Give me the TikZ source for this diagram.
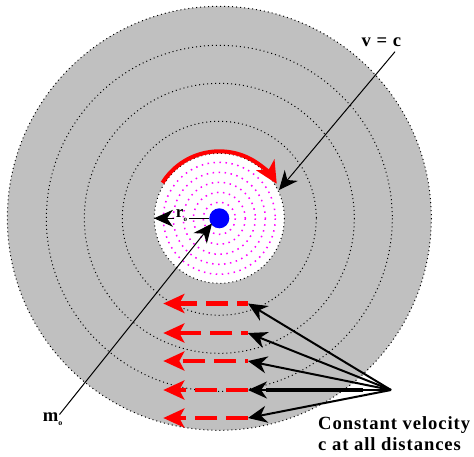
\documentclass[tikz,border=0pt]{standalone}
\usepackage{fontspec}
\setmainfont{Liberation Serif}
\newfontfamily\lblfont[LetterSpace=5]{Liberation Serif}
\usetikzlibrary{arrows.meta}
\definecolor{discgray}{RGB}{192,192,192}
\definecolor{ringmag}{RGB}{255,0,255}
\begin{document}
\begin{tikzpicture}[x=1pt,y=-1pt,
  bigtip/.style={-{Stealth[length=19pt,width=17pt,inset=6pt]}},
  redtip/.style={-{Stealth[length=21pt,width=19pt,inset=5pt]}},
  ring/.style={draw=black,line width=1pt,dash pattern=on 1pt off 3pt},
  magring/.style={draw=ringmag,line width=1.5pt,dash pattern=on 1.5pt off 4.5pt},
  reddash/.style={draw=red,line width=4.5pt,dash pattern=on 22pt off 9pt,redtip},
  pointer/.style={draw=black,line width=2pt,bigtip},
  thinptr/.style={draw=black,line width=1pt,bigtip},
  lbl/.style={font=\lblfont\bfseries\fontsize{18.6}{21}\selectfont, inner sep=0pt}
]
\useasboundingbox (0,0) rectangle (474,456);
\coordinate (O) at (219.3,218.3);
% discs and rings
\fill[discgray] (O) circle[radius=212];
\draw[ring] (O) circle[radius=212];
\foreach \r in {173,135,97} \draw[ring] (O) circle[radius=\r];
\fill[white] (O) circle[radius=65];
\draw[ring] (O) circle[radius=65];
\foreach \r in {16,26,36,46,56} \draw[magring] (O) circle[radius=\r];
% red arc
\draw[red,line width=4pt,-{Stealth[length=22pt,width=21pt,inset=6pt]}]
  (O) ++(-148:67) arc[start angle=-148,end angle=-31,radius=67];
% central mass
\node[circle,fill=blue,minimum size=20pt,inner sep=0pt] (m) at (O) {};
% r_o
\node[font=\fontsize{17}{17}\selectfont\bfseries, inner sep=1.5pt] (ro) at (181.5,216) {r\raisebox{-4pt}{\fontsize{7}{7}\selectfont o}};
\coordinate (rtip) at (154,218.3);
\draw[line width=1pt] (m) -- (ro.east |- m.center);
\draw[thinptr] (ro.west |- m.center) -- (rtip);
% v = c
\node[lbl,anchor=base west] (vc) at (361.5,46.7) {v = c};
\coordinate (vcs) at (395,51.7);
\coordinate (vct) at (279,190);
\draw[thinptr] (vcs) -- (vct);
% m_o
\node[lbl,anchor=base west] (mo) at (42.7,421.7) {m\raisebox{-4pt}{\fontsize{8}{8}\selectfont o}};
\coordinate (mos) at (59.5,414.5);
\coordinate (mot) at (212,223.5);
\draw[thinptr] (mos) -- (mot);
% red dashed arrows
\coordinate (rs1) at (248,303.5); \coordinate (rl1) at (163.3,303.5);
\coordinate (rs2) at (248,333);   \coordinate (rl2) at (163.3,333);
\coordinate (rs3) at (248,361);   \coordinate (rl3) at (163.3,361);
\coordinate (rs4) at (248,390);   \coordinate (rl4) at (163.3,390);
\coordinate (rs5) at (248,418);   \coordinate (rl5) at (163.3,418);
\draw[reddash,dash phase=11pt] (rs1) -- (rl1);
\draw[reddash,dash phase=15pt] (rs2) -- (rl2);
\draw[reddash,dash phase=19pt] (rs3) -- (rl3);
\draw[reddash,dash phase=0pt] (rs4) -- (rl4);
\draw[reddash,dash phase=0pt] (rs5) -- (rl5);
% black pointers
\coordinate (src) at (391,390);
\coordinate (thk) at (363,390);
\foreach \i in {1,...,5} \draw[pointer] (src) -- (rs\i);
\draw[line width=3.5pt] (thk) -- (266,390);
% caption
\node[lbl,anchor=north west,align=left] (cv) at (318,416) {Constant velocity\\c at all distances};
\end{tikzpicture}
\end{document}
